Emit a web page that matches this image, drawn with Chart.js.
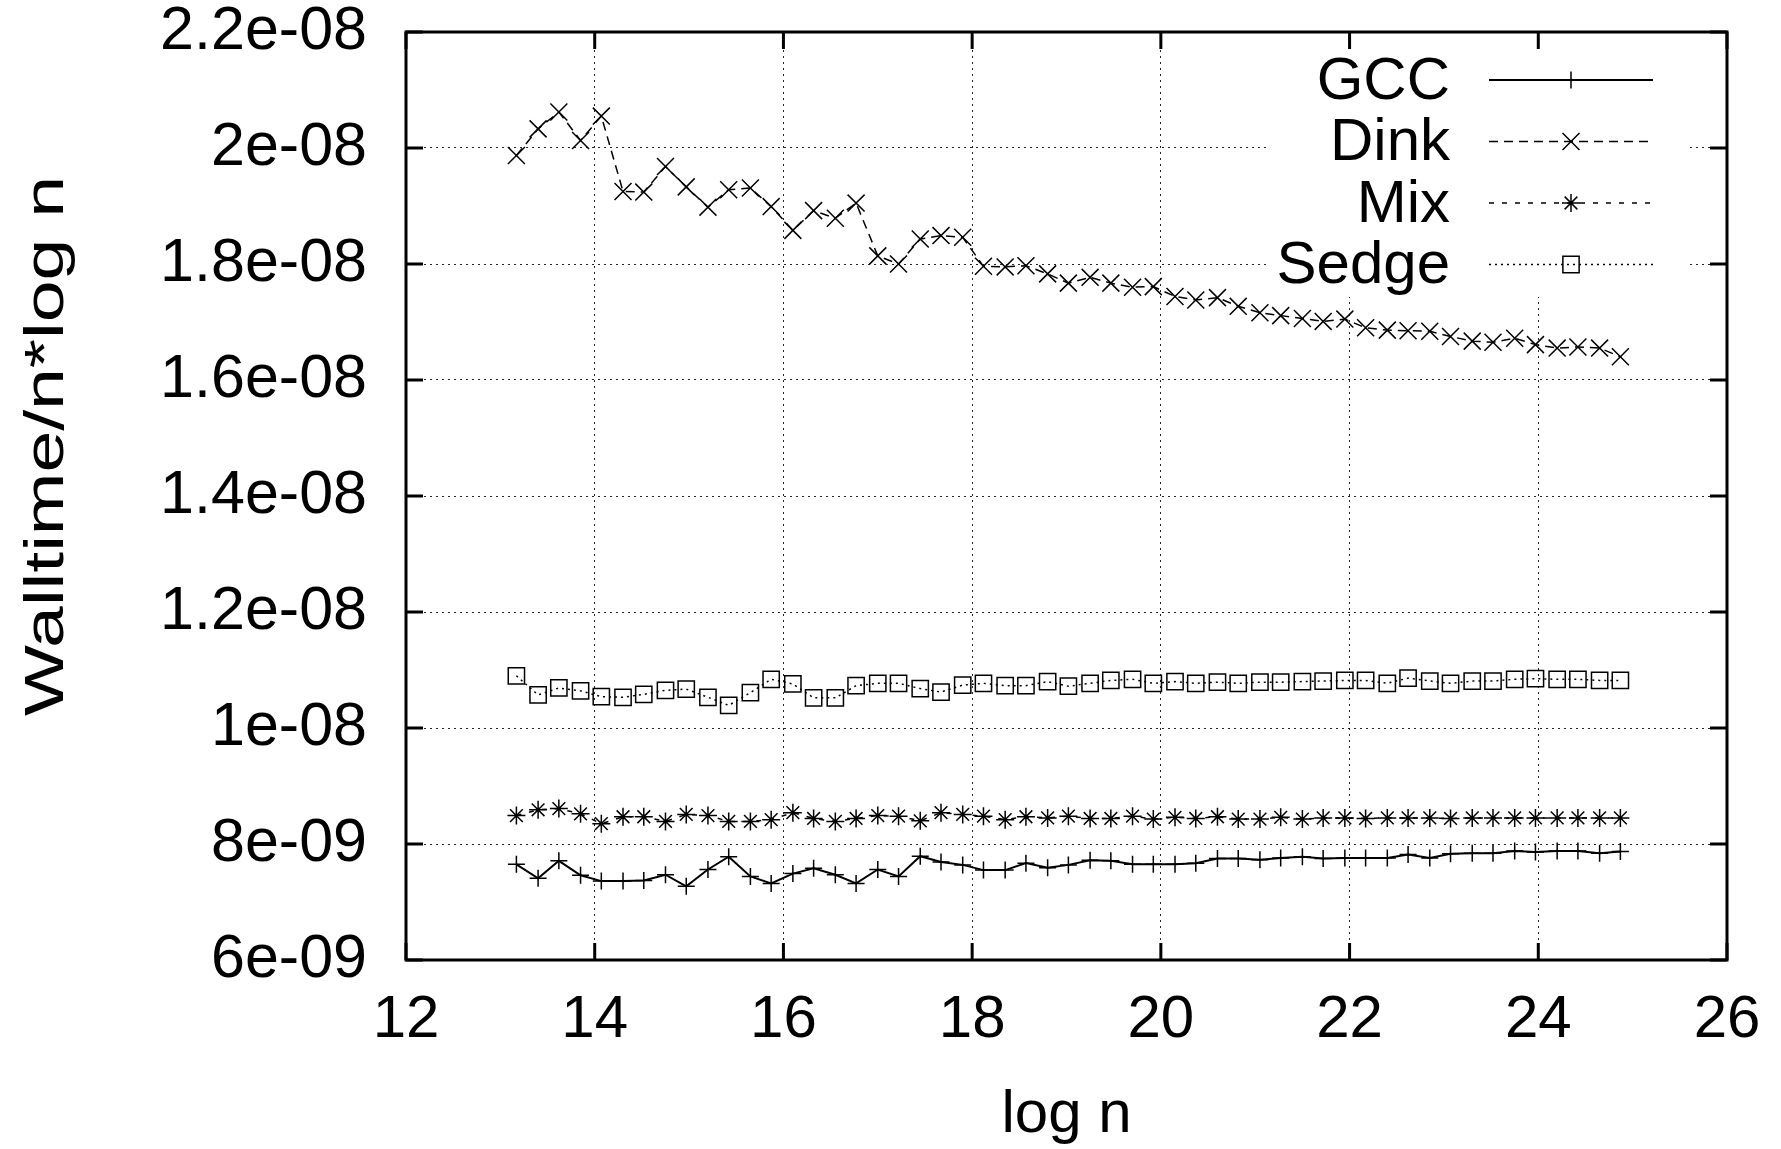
<!DOCTYPE html>
<html>
<head>
<meta charset="utf-8">
<script src="https://cdn.jsdelivr.net/npm/chart.js@4/dist/chart.umd.min.js"></script>
<style>
html,body{margin:0;padding:0;background:#ffffff;}
#wrap{width:1781px;height:1149px;}
</style>
</head>
<body>
<div id="wrap"><canvas id="c" width="1781" height="1149"></canvas></div>
<script>
// ---------- data ----------
const logN = [13.17,13.40,13.62,13.85,14.07,14.30,14.52,14.75,14.97,15.20,15.42,15.65,15.87,16.10,16.32,16.55,16.77,17.00,17.22,17.45,17.67,17.90,18.12,18.35,18.57,18.80,19.02,19.25,19.47,19.70,19.92,20.15,20.37,20.60,20.82,21.05,21.27,21.50,21.72,21.95,22.17,22.40,22.62,22.85,23.07,23.30,23.52,23.75,23.97,24.20,24.42,24.65,24.87];

const gcc = [7.65e-9,7.41e-9,7.71e-9,7.46e-9,7.36e-9,7.36e-9,7.37e-9,7.47e-9,7.27e-9,7.56e-9,7.78e-9,7.44e-9,7.32e-9,7.49e-9,7.58e-9,7.47e-9,7.32e-9,
7.56e-9,7.44e-9,7.79e-9,7.69e-9,7.64e-9,7.55e-9,7.55e-9,7.67e-9,7.59e-9,7.64e-9,7.72e-9,7.71e-9,7.65e-9,7.65e-9,7.65e-9,7.67e-9,7.75e-9,7.75e-9,7.73e-9,7.76e-9,7.78e-9,
7.75e-9,7.76e-9,7.76e-9,7.76e-9,7.82e-9,7.76e-9,7.83e-9,7.84e-9,7.84e-9,7.88e-9,7.86e-9,7.88e-9,7.88e-9,7.84e-9,7.87e-9];

const dink = [19.87e-9,20.33e-9,20.62e-9,20.13e-9,20.55e-9,19.25e-9,19.24e-9,19.68e-9,19.33e-9,18.98e-9,
19.28e-9,19.31e-9,18.99e-9,18.58e-9,18.92e-9,18.79e-9,19.05e-9,18.14e-9,18.00e-9,18.43e-9,
18.49e-9,18.46e-9,17.96e-9,17.95e-9,17.97e-9,17.83e-9,17.67e-9,17.77e-9,17.67e-9,17.60e-9,
17.61e-9,17.44e-9,17.38e-9,17.42e-9,17.27e-9,17.16e-9,17.11e-9,17.06e-9,17.01e-9,17.05e-9,
16.90e-9,16.86e-9,16.85e-9,16.84e-9,16.75e-9,16.67e-9,16.65e-9,16.72e-9,16.61e-9,16.55e-9,
16.57e-9,16.55e-9,16.40e-9];

const mix = [8.49e-9,8.59e-9,8.61e-9,8.52e-9,8.35e-9,8.47e-9,8.47e-9,8.39e-9,8.51e-9,8.49e-9,8.39e-9,8.39e-9,8.42e-9,8.54e-9,8.44e-9,8.39e-9,8.44e-9,
8.49e-9,8.48e-9,8.40e-9,8.54e-9,8.51e-9,8.48e-9,8.42e-9,8.47e-9,8.45e-9,8.48e-9,8.44e-9,8.44e-9,8.48e-9,8.43e-9,8.46e-9,8.44e-9,8.47e-9,8.43e-9,8.43e-9,8.46e-9,8.43e-9,
8.45e-9,8.45e-9,8.44e-9,8.45e-9,8.45e-9,8.45e-9,8.44e-9,8.45e-9,8.45e-9,8.45e-9,8.45e-9,8.45e-9,8.45e-9,8.45e-9,8.45e-9];

const sedge = [10.90e-9,10.57e-9,10.69e-9,10.64e-9,10.54e-9,10.53e-9,10.58e-9,10.65e-9,10.67e-9,10.53e-9,10.39e-9,10.61e-9,10.84e-9,10.76e-9,10.52e-9,10.52e-9,10.73e-9,
10.77e-9,10.77e-9,10.68e-9,10.62e-9,10.74e-9,10.77e-9,10.73e-9,10.73e-9,10.80e-9,10.72e-9,10.77e-9,10.82e-9,10.84e-9,10.77e-9,10.80e-9,10.77e-9,10.79e-9,10.77e-9,10.79e-9,10.79e-9,10.80e-9,
10.81e-9,10.82e-9,10.82e-9,10.77e-9,10.86e-9,10.81e-9,10.77e-9,10.81e-9,10.81e-9,10.84e-9,10.85e-9,10.84e-9,10.84e-9,10.82e-9,10.82e-9];

const seriesNames = ['GCC', 'Dink', 'Mix', 'Sedge'];
const xTickValues = [12, 14, 16, 18, 20, 22, 24, 26];
const xTickLabels = ['12', '14', '16', '18', '20', '22', '24', '26'];
const yTickValues = [6e-9, 8e-9, 1e-8, 1.2e-8, 1.4e-8, 1.6e-8, 1.8e-8, 2e-8, 2.2e-8];
const yTickLabels = ['6e-09', '8e-09', '1e-08', '1.2e-08', '1.4e-08', '1.6e-08', '1.8e-08', '2e-08', '2.2e-08'];
const xTitle = 'log n';
const yTitle = 'Walltime/n*log n';

// ---------- styling ----------
const FONT = '"Liberation Sans", Arial, Helvetica, sans-serif';
const toPoints = ys => ys.map((y, i) => ({ x: logN[i], y: y }));

function lookupLabel(values, labels, v) {
  for (let i = 0; i < values.length; i++) {
    if (Math.abs(values[i] - v) <= Math.abs(values[i]) * 1e-6 + 1e-15) return labels[i];
  }
  return '';
}

const seriesStyle = [
  { dash: [], width: 2, point: 'cross', radius: 8.5 },
  { dash: [9, 6], width: 1.5, point: 'crossRot', radius: 12 },
  { dash: [5, 8], width: 1.5, point: 'star', radius: 9 },
  { dash: [2, 4], width: 1.5, point: 'rect', radius: 11.5 }
];
const seriesData = [gcc, dink, mix, sedge];

const datasets = seriesNames.map((name, i) => ({
  label: name,
  data: toPoints(seriesData[i]),
  showLine: true,
  borderColor: '#000',
  borderWidth: seriesStyle[i].width,
  borderDash: seriesStyle[i].dash,
  pointStyle: seriesStyle[i].point,
  pointRadius: seriesStyle[i].radius,
  pointHoverRadius: seriesStyle[i].radius,
  pointBorderColor: '#000',
  pointBackgroundColor: 'rgba(0,0,0,0)',
  pointBorderWidth: 1.5,
  tension: 0,
  fill: false
}));

// frame, inward ticks, legend, rotated y title (gnuplot look)
const gnuplotDecor = {
  id: 'gnuplotDecor',
  afterDatasetsDraw(chart) {
    const ctx = chart.ctx;
    const a = chart.chartArea;
    const xs = chart.scales.x, ys = chart.scales.y;
    ctx.save();

    // legend (opaque key)
    const box = { left: 1266, right: 1690, bottom: 297 };
    ctx.fillStyle = '#ffffff';
    ctx.fillRect(box.left, a.top + 2, box.right - box.left, box.bottom - a.top - 2);
    const rowY0 = 80, rowStep = 61.5;
    chart.data.datasets.forEach((ds, i) => {
      const y = rowY0 + i * rowStep;
      ctx.fillStyle = '#000';
      ctx.font = '60px ' + FONT;
      ctx.textAlign = 'right';
      ctx.textBaseline = 'middle';
      ctx.fillText(ds.label, 1450, y + 2);
      ctx.strokeStyle = '#000';
      ctx.lineWidth = ds.borderWidth;
      ctx.setLineDash(ds.borderDash || []);
      ctx.beginPath();
      ctx.moveTo(1489, y);
      ctx.lineTo(1653, y);
      ctx.stroke();
      ctx.setLineDash([]);
      ctx.lineWidth = ds.pointBorderWidth;
      ctx.fillStyle = 'rgba(0,0,0,0)';
      Chart.helpers.drawPoint(ctx, {
        pointStyle: ds.pointStyle, radius: ds.pointRadius, rotation: 0, borderWidth: ds.pointBorderWidth
      }, 1571, y);
    });

    // frame
    ctx.setLineDash([]);
    ctx.strokeStyle = '#000';
    ctx.lineWidth = 3;
    ctx.strokeRect(a.left, a.top, a.right - a.left, a.bottom - a.top);
    // inward ticks on all sides
    const tl = 17;
    ctx.beginPath();
    xTickValues.forEach(v => {
      const px = xs.getPixelForValue(v);
      ctx.moveTo(px, a.bottom); ctx.lineTo(px, a.bottom - tl);
      ctx.moveTo(px, a.top); ctx.lineTo(px, a.top + tl);
    });
    yTickValues.forEach(v => {
      const py = ys.getPixelForValue(v);
      ctx.moveTo(a.left, py); ctx.lineTo(a.left + tl, py);
      ctx.moveTo(a.right, py); ctx.lineTo(a.right - tl, py);
    });
    ctx.stroke();

    // rotated y-axis title
    ctx.font = '56px ' + FONT;
    ctx.fillStyle = '#000';
    ctx.textAlign = 'center';
    ctx.textBaseline = 'middle';
    const natural = ctx.measureText(yTitle).width;
    const targetLen = 540;
    ctx.translate(48, 446);
    ctx.rotate(-Math.PI / 2);
    ctx.scale(targetLen / natural, 1);
    ctx.fillText(yTitle, 0, 0);
    ctx.restore();
  }
};

const gridCommon = {
  display: true,
  drawOnChartArea: true,
  drawTicks: false,
  color: 'rgba(0,0,0,0.85)',
  lineWidth: 1
};

function zeroPad(s) { s.paddingTop = 0; s.paddingBottom = 0; s.paddingLeft = 0; s.paddingRight = 0; }

new Chart(document.getElementById('c'), {
  type: 'scatter',
  data: { datasets },
  plugins: [gnuplotDecor],
  options: {
    responsive: false,
    animation: false,
    devicePixelRatio: 1,
    layout: { padding: { left: 0, top: 32, right: 54, bottom: 0 } },
    plugins: {
      legend: { display: false },
      tooltip: { enabled: false },
      title: { display: false }
    },
    scales: {
      x: {
        type: 'linear',
        min: 12,
        max: 26,
        grid: gridCommon,
        border: { display: false, dash: [2, 4] },
        afterBuildTicks: s => { s.ticks = xTickValues.map(v => ({ value: v })); },
        afterFit: s => { s.height = 189; zeroPad(s); },
        ticks: {
          color: '#000',
          padding: 30,
          maxRotation: 0,
          autoSkip: false,
          font: { family: FONT, size: 60, lineHeight: 1 },
          callback: v => lookupLabel(xTickValues, xTickLabels, v)
        },
        title: {
          display: true,
          text: xTitle,
          color: '#000',
          padding: { top: 4, bottom: 4 },
          font: { family: FONT, size: 60, lineHeight: 1 }
        }
      },
      y: {
        type: 'linear',
        min: 6e-9,
        max: 2.2e-8,
        grid: gridCommon,
        border: { display: false, dash: [2, 4] },
        afterBuildTicks: s => { s.ticks = yTickValues.map(v => ({ value: v })); },
        afterFit: s => { s.width = 406; zeroPad(s); },
        ticks: {
          color: '#000',
          padding: 39,
          autoSkip: false,
          font: { family: FONT, size: 61, lineHeight: 1 },
          callback: v => lookupLabel(yTickValues, yTickLabels, v)
        },
        title: { display: false }
      }
    }
  }
});
</script>
</body>
</html>
